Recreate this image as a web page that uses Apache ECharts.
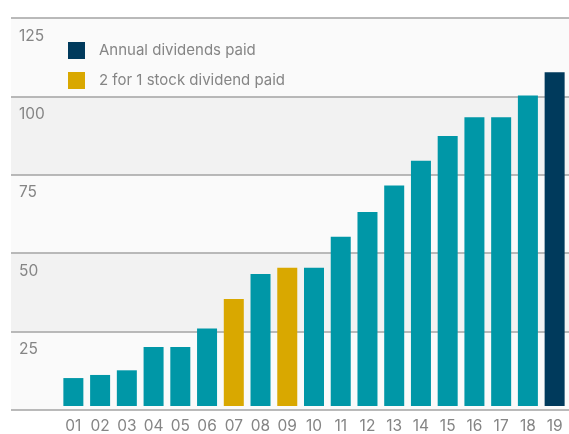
<!DOCTYPE html>
<html>
<head>
<meta charset="utf-8">
<script src="https://cdn.jsdelivr.net/npm/echarts@6/dist/echarts.min.js"></script>
<style>
  html, body { margin: 0; padding: 0; background: #fff; }
  #main { width: 569px; height: 434px; }
</style>
</head>
<body>
<div id="main"></div>
<script>
var chartDom = document.getElementById("main");
var myChart = echarts.init(chartDom);

// years shown as two-digit labels
var years = ["01", "02", "03", "04", "05", "06", "07", "08", "09", "10",
  "11", "12", "13", "14", "15", "16", "17", "18", "19"];
// regular annual dividends (teal)
var regular = [9, 10, 11.5, 19, 19, 25, "-", 42.5, "-", 44.5,
  54.5, 62.5, 71, 79, 87, 93, 93, 100, "-"];
// years with a 2 for 1 stock dividend (gold)
var stockDiv = ["-", "-", "-", "-", "-", "-", 34.5, "-", 44.5, "-",
  "-", "-", "-", "-", "-", "-", "-", "-", "-"];
// latest annual dividend (navy)
var latest = ["-", "-", "-", "-", "-", "-", "-", "-", "-", "-",
  "-", "-", "-", "-", "-", "-", "-", "-", 107.5];
var yTicks = { min: 0, max: 125, interval: 25 };

var fontFamily = "Inter, 'Noto Sans', sans-serif";
var gray = "#858585";

var option = {
  animation: false,
  textStyle: { fontFamily: fontFamily },
  legend: {
    orient: "vertical",
    left: 68,
    top: 42,
    padding: 0,
    itemWidth: 17,
    itemHeight: 17,
    itemGap: 13,
    icon: "rect",
    data: ["Annual dividends paid", "2 for 1 stock dividend paid"],
    textStyle: { fontSize: 15, color: gray, padding: [0, 0, 0, 9] }
  },
  grid: [
    { left: 11, right: 0, top: 18, bottom: 24 },
    { left: 60, right: 1, top: 18, bottom: 24 }
  ],
  xAxis: [
    { type: "category", gridIndex: 0, data: years, show: false },
    {
      type: "category",
      gridIndex: 1,
      data: years,
      axisLine: { show: false },
      axisTick: { show: false },
      axisLabel: { color: gray, fontSize: 15.5, margin: 12 }
    }
  ],
  yAxis: [
    {
      type: "value",
      gridIndex: 0,
      min: yTicks.min,
      max: yTicks.max,
      interval: yTicks.interval,
      axisLine: { show: false },
      axisTick: { show: false },
      axisLabel: {
        inside: true,
        margin: 8,
        color: gray,
        fontSize: 15.5,
        verticalAlign: "top",
        padding: [10, 0, 0, 0],
        formatter: function (v) { return v === 0 ? "" : v; }
      },
      splitLine: { show: true, lineStyle: { color: "#a3a3a3", width: 1.5 } },
      splitArea: { show: true, areaStyle: { color: ["#fafafa", "#f2f2f2"] } }
    },
    {
      type: "value",
      gridIndex: 1,
      min: yTicks.min,
      max: yTicks.max,
      interval: yTicks.interval,
      show: false,
      splitLine: { show: false }
    }
  ],
  series: [
    {
      name: "Regular",
      type: "bar",
      xAxisIndex: 1,
      yAxisIndex: 1,
      stack: "d",
      barWidth: 20,
      itemStyle: { color: "#0097a7" },
      data: regular
    },
    {
      name: "2 for 1 stock dividend paid",
      type: "bar",
      xAxisIndex: 1,
      yAxisIndex: 1,
      stack: "d",
      barWidth: 20,
      itemStyle: { color: "#d9a800" },
      data: stockDiv
    },
    {
      name: "Annual dividends paid",
      type: "bar",
      xAxisIndex: 1,
      yAxisIndex: 1,
      stack: "d",
      barWidth: 20,
      itemStyle: { color: "#003a5c" },
      data: latest
    }
  ]
};

option && myChart.setOption(option);
</script>
</body>
</html>
